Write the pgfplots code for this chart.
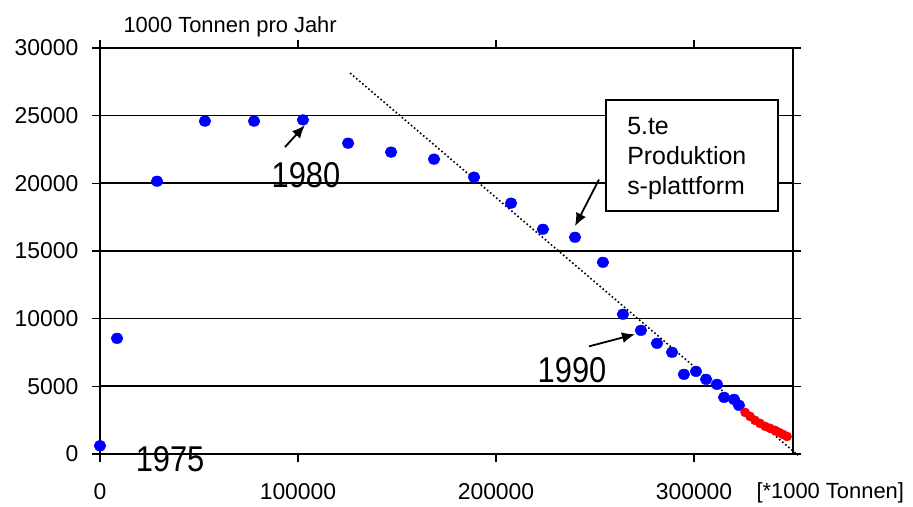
\documentclass[border=0pt]{standalone}
\usepackage{fontspec}
\setmainfont{Liberation Sans}
\newfontfamily\narrowfont{Liberation Sans}[FakeStretch=0.86]
\usepackage{pgfplots}
\pgfplotsset{compat=1.18}
\usetikzlibrary{arrows.meta}

\pgfplotstableread{
x y
0 600
8600 8540
28800 20150
53000 24590
77800 24590
102500 24680
125300 22960
147000 22300
168700 21780
188900 20450
207600 18530
223700 16600
239900 16010
254000 14160
264100 10320
273200 9130
281300 8170
288900 7510
294900 5880
301000 6100
306100 5510
311600 5140
315200 4180
320200 4030
322700 3590
}\bluedata

\pgfplotstableread{
x y
325800 3070
328300 2770
330800 2480
333300 2260
335900 2040
338400 1890
340900 1740
342900 1590
344900 1440
347000 1290
}\reddata

\pgfplotstableread{
x y
126300 28140
352500 -100
}\trenddata

\begin{document}
\begin{tikzpicture}
\begin{axis}[
  scale only axis, width=693bp, height=406bp,
  xmin=0, xmax=350000, ymin=0, ymax=30000,
  xtick={0,100000,200000,300000},
  ytick={0,5000,10000,15000,20000,25000,30000},
  scaled ticks=false,
  /pgf/number format/fixed,
  /pgf/number format/precision=0,
  /pgf/number format/1000 sep={},
  /pgf/number format/assume math mode=true,
  tick align=outside, major tick length=8bp,
  ymajorgrids, major grid style={black, line width=1.6bp},
  axis line style={black, line width=1.8bp},
  tick style={black, line width=1.4bp},
  ticklabel style={font=\fontsize{23}{23}\selectfont},
  xticklabel shift=18bp,
  yticklabel shift=10bp,
  clip=false,
]
\addplot[only marks, mark=*, mark size=5.3bp, color=blue, mark options={xscale=1.12, draw=blue, fill=blue}] table {\bluedata};
\addplot[only marks, mark=*, mark size=4.6bp, color=red, mark options={draw=red, fill=red}] table {\reddata};
\addplot[black, line width=1.6bp, dash pattern=on 1.6bp off 2.4bp, no marks] table {\trenddata};

\node[anchor=west, font=\fontsize{22}{22}\selectfont] at (axis cs:10100,31540) {1000 Tonnen pro Jahr};
\node[anchor=west, font=\fontsize{22}{22}\selectfont] at (axis cs:329800,-2850) {[*1000 Tonnen]};

\node[font=\narrowfont\fontsize{36}{36}\selectfont] at (axis cs:104000,20600) {1980};
\node[font=\narrowfont\fontsize{36}{36}\selectfont] at (axis cs:238400,6180) {1990};
\node[font=\narrowfont\fontsize{36}{36}\selectfont] at (axis cs:35400,-370) {1975};

\draw[line width=1.8bp, -{Latex[length=13bp,width=11bp]}] (axis cs:93400,22670) -- (axis cs:103500,24290);
\draw[line width=1.8bp, -{Latex[length=13bp,width=11bp]}] (axis cs:247000,7950) -- (axis cs:270200,8840);
\draw[line width=1.8bp, -{Latex[length=13bp,width=11bp]}] (axis cs:252000,20270) -- (axis cs:239900,16830);

\draw[black, line width=1.4bp, fill=white] (axis cs:255600,26150) rectangle (axis cs:342400,17940);
\node[anchor=north west, align=left, inner sep=0pt, font=\fontsize{25}{30}\selectfont] at (axis cs:266200,24850) {5.te\\Produktion\\s-plattform};

\path (axis cs:-50500,33540) rectangle (axis cs:410600,-3513);
\end{axis}
\end{tikzpicture}
\end{document}
